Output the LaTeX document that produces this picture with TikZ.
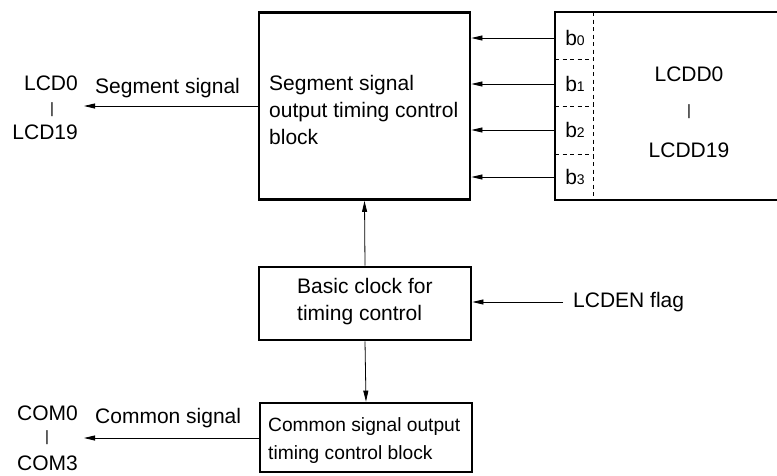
\documentclass[tikz,border=0pt]{standalone}
\usepackage{fontspec}
\setmainfont{Liberation Sans}
\usetikzlibrary{arrows.meta}
\begin{document}
\begin{tikzpicture}[x=1pt,y=-1pt,
  box/.style={draw,line width=2.8pt,rectangle,inner sep=0pt},
  lbl/.style={font=\fontsize{21}{27}\selectfont,inner sep=0pt},
  slbl/.style={font=\fontsize{19.2}{28}\selectfont,inner sep=0pt},
  bar/.style={font=\fontsize{15}{15}\selectfont,inner sep=0pt},
  arr/.style={line width=0.8pt,-{Triangle[length=11pt,width=5pt]}},
  dsh/.style={line width=0.8pt,dash pattern=on 4pt off 3.5pt},
  thk/.style={line width=2.8pt}]
\useasboundingbox (0,0) rectangle (777,475);
% blocks
\node[box,minimum width=211pt,minimum height=187pt] (seg) at (364.5,106) {};
\node[lbl,anchor=west,align=left] (segtxt) at (269,110) {Segment signal\\output timing control\\block};
\node[box,minimum width=212pt,minimum height=73pt] (clk) at (365,303.5) {};
\node[lbl,anchor=west,align=left] (clktxt) at (297,302) {Basic clock for\\timing control};
\node[box,minimum width=212pt,minimum height=69pt] (com) at (366,437.5) {};
\node[slbl,anchor=west,align=left] (comtxt) at (268,441) {Common signal output\\timing control block};
% register box (open on the right)
\coordinate (rtl) at (555,12);
\coordinate (rbl) at (555,200);
\coordinate (rtr) at (778,12);
\coordinate (rbr) at (778,200);
\draw[thk] (rtr) -- (rtl) -- (rbl) -- (rbr);
\coordinate (dvt) at (593,12);
\coordinate (dvb) at (593,200);
\draw[dsh] (dvt) -- (dvb);
\foreach \yy in {59,106,154}{
  \draw[dsh] (555,\yy) -- (593,\yy);
}
\newcommand{\bsub}[1]{b\raisebox{-0.5pt}{\fontsize{14}{14}\selectfont #1}}
\node[lbl] (b0) at (575,38) {\bsub{0}};
\node[lbl] (b1) at (575,84) {\bsub{1}};
\node[lbl] (b2) at (575,130) {\bsub{2}};
\node[lbl] (b3) at (575,177) {\bsub{3}};
\node[lbl] (lcdd0) at (689,74) {LCDD0};
\node[bar] (lcddbar) at (689,112) {|};
\node[lbl] (lcdd19) at (689,150) {LCDD19};
\foreach \b in {b0,b1,b2,b3}{
  \draw[arr] (rtl |- \b) -- (seg.east |- \b);
}
% segment output
\node[lbl,anchor=west] (segsig) at (95,88) {Segment signal};
\node[lbl,anchor=east] (lcd0) at (78,83) {LCD0};
\node[bar] (lcdbar) at (52,110) {|};
\node[lbl,anchor=east] (lcd19) at (78,132) {LCD19};
\coordinate (segend) at (84,106);
\draw[arr] (seg.west |- segend) -- (segend);
% common output
\node[lbl,anchor=west] (comsig) at (95,418) {Common signal};
\node[lbl,anchor=east] (com0) at (78,413) {COM0};
\node[bar] (combar) at (47,438) {|};
\node[lbl,anchor=east] (com3) at (78,463) {COM3};
\coordinate (comend) at (84,438);
\draw[arr] (com.west |- comend) -- (comend);
% clock connections
\draw[arr] (clk.north) -- (seg.south);
\draw[arr] (clk.south) -- (com.north);
\node[lbl,anchor=west] (lcden) at (573,302) {LCDEN flag};
\coordinate (lcdenst) at (563,302);
\draw[arr] (lcdenst) -- (clk.east |- lcdenst);
\end{tikzpicture}
\end{document}
